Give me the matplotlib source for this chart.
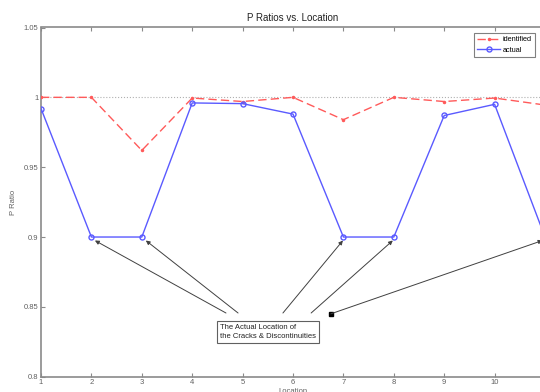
import matplotlib
matplotlib.use("Agg")
import matplotlib.pyplot as plt

plt.rcParams['font.family'] = ['Liberation Sans', 'DejaVu Sans']

locations = [1, 2, 3, 4, 5, 6, 7, 8, 9, 10, 11]
identified = [1.0, 1.0, 0.962, 0.9995, 0.997, 1.0, 0.984, 1.0, 0.997, 0.9995, 0.9945]
actual = [0.992, 0.9, 0.9, 0.996, 0.9955, 0.988, 0.9, 0.9, 0.987, 0.995, 0.9]
xticks = [1, 2, 3, 4, 5, 6, 7, 8, 9, 10]
yticks = [0.8, 0.85, 0.9, 0.95, 1.0, 1.05]
ytick_labels = ["0.8", "0.85", "0.9", "0.95", "1", "1.05"]
note = "The Actual Location of\nthe Cracks & Discontinuities"
arrow_tails = [(4.67, 0.8456), (4.91, 0.8456), (5.80, 0.8456), (6.36, 0.8456)]
arrow_tips = [(2.07, 0.8975), (3.08, 0.8975), (6.99, 0.8975), (7.98, 0.8975)]
long_tail = (6.75, 0.845)
long_tip = (10.95, 0.8975)

fig = plt.figure(figsize=(5.4, 3.92), dpi=100)
ax = fig.add_axes([41/540, 15.3/392, 504/540, 349.2/392])

axc = '#8a8a8a'
ax.axhline(1.0, color='#b0b0b0', linestyle=':', linewidth=0.8, zorder=1)
ax.plot(locations, identified, color='#ff5a5a', linestyle=(0, (6, 3)), linewidth=1.0,
        marker='.', markersize=3, label='identified', zorder=3)
ax.plot(locations, actual, color='#5a5aff', linestyle='-', linewidth=1.0,
        marker='o', markersize=3.6, markerfacecolor='none', markeredgecolor='#5a5aff',
        label='actual', zorder=3)

ax.set_xlim(1, 11)
ax.set_ylim(0.8, 1.05)
ax.set_xticks(xticks)
ax.set_yticks(yticks)
ax.set_yticklabels(ytick_labels)
ax.tick_params(direction='in', length=3, width=0.8, colors=axc, labelcolor='#606060',
               labelsize=5.5, top=True, right=True, pad=2)
for s in ax.spines.values():
    s.set_color(axc)
    s.set_linewidth(1.2)

ax.set_title('P Ratios vs. Location', fontsize=7, color='#222222', pad=5)
ax.set_xlabel('Location', fontsize=5.5, color='#606060', labelpad=1)
ax.set_ylabel('P Ratio', fontsize=5.5, color='#606060')
ax.yaxis.set_label_coords(-24/504, 0.5)

leg = ax.legend(loc='upper right', bbox_to_anchor=((535 - 41)/504, (376.7 - 33)/349.2),
                bbox_transform=ax.transAxes,
                fontsize=5.3, frameon=True, fancybox=False, handlelength=3.2,
                borderpad=0.45, labelspacing=0.45, handletextpad=0.3, borderaxespad=0)
leg.get_frame().set_edgecolor('#606060')
leg.get_frame().set_linewidth(0.8)

for tail, tip in zip(arrow_tails, arrow_tips):
    ax.annotate('', xy=tip, xytext=tail,
                arrowprops=dict(arrowstyle='-|>', color='#404040', lw=0.7,
                                mutation_scale=6, shrinkA=0, shrinkB=0))
ax.annotate('', xy=long_tip, xytext=long_tail,
            arrowprops=dict(arrowstyle='-|>', color='#404040', lw=0.7,
                            mutation_scale=6, shrinkA=0, shrinkB=0), annotation_clip=False)
ax.plot([long_tail[0]], [long_tail[1]], marker='s', color='black', markersize=2.5)

ax.text(4.55, 0.832, note, fontsize=5.5, color='#222222', ha='left', va='center',
        linespacing=1.3,
        bbox=dict(boxstyle='square,pad=0.4', facecolor='white', edgecolor='#606060', linewidth=0.8))

fig.savefig('out.png', dpi=100)
